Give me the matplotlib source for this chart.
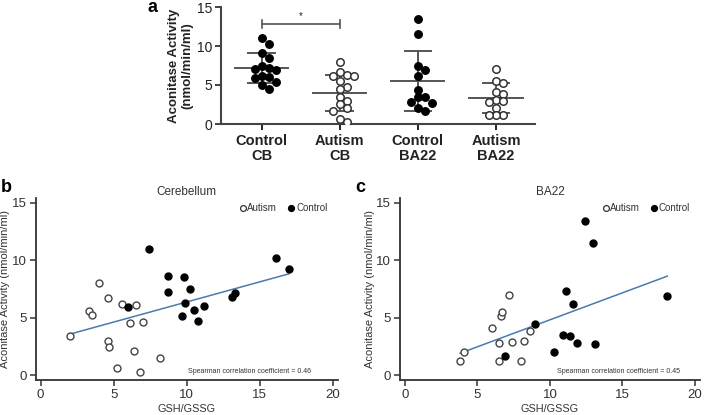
import matplotlib
matplotlib.use("Agg")
import matplotlib.pyplot as plt
import numpy as np

plt.rcParams["font.family"] = ["Liberation Sans", "DejaVu Sans"]

# ---- panel a: aconitase activity per group ----
groups = ["Control\nCB", "Autism\nCB", "Control\nBA22", "Autism\nBA22"]
ctrl_cb = [11.0, 10.3, 9.1, 8.4, 7.4, 7.2, 7.0, 6.9, 6.2, 5.9, 6.0, 5.4, 5.0, 4.5]
aut_cb = [8.0, 6.7, 6.3, 6.2, 6.1, 5.5, 4.8, 4.5, 3.4, 3.0, 2.5, 2.1, 1.7, 0.6, 0.3]
ctrl_ba22 = [13.4, 11.6, 7.4, 6.9, 6.2, 4.4, 3.5, 3.4, 2.8, 2.7, 2.0, 1.7]
aut_ba22 = [7.0, 5.5, 5.2, 4.1, 3.8, 3.1, 2.9, 2.8, 2.1, 1.2, 1.2, 1.1]
group_means = [7.2, 4.0, 5.5, 3.3]
group_sds = [1.9, 2.3, 3.8, 1.9]
filled = [True, False, True, False]

# ---- panel b: cerebellum ----
b_aut_x = [2.0, 3.3, 3.5, 4.0, 4.6, 4.6, 4.7, 5.2, 5.6, 6.1, 6.4, 6.5, 6.8, 7.0, 8.2]
b_aut_y = [3.4, 5.6, 5.2, 8.0, 6.7, 3.0, 2.4, 0.6, 6.2, 4.5, 2.1, 6.1, 0.3, 4.6, 1.5]
b_ctl_x = [6.0, 7.4, 8.7, 8.7, 9.7, 9.8, 9.9, 10.2, 10.5, 10.8, 11.2, 13.1, 13.3, 16.1, 17.0]
b_ctl_y = [5.9, 11.0, 8.6, 7.2, 5.1, 8.5, 6.3, 7.5, 5.7, 4.7, 6.0, 6.8, 7.1, 10.2, 9.2]
b_rho = 0.46

# ---- panel c: BA22 ----
c_aut_x = [3.8, 4.1, 6.0, 6.5, 6.5, 6.6, 6.7, 7.2, 7.4, 8.0, 8.2, 8.6]
c_aut_y = [1.2, 2.0, 4.1, 2.8, 1.2, 5.1, 5.5, 7.0, 2.9, 1.2, 3.0, 3.8]
c_ctl_x = [6.9, 9.0, 10.3, 10.9, 11.1, 11.4, 11.6, 11.9, 12.4, 13.0, 13.1, 18.1]
c_ctl_y = [1.7, 4.4, 2.0, 3.5, 7.3, 3.4, 6.2, 2.8, 13.4, 11.5, 2.7, 6.9]
c_rho = 0.45

DARK = "#222222"
GREY = "#555555"
LINE = "#4A7AAE"


def swarm(vals, step=0.09, ysep=0.85):
    vals = np.asarray(vals, float)
    offs = np.zeros(len(vals))
    placed = []
    for i in np.argsort(vals)[::-1]:
        for k in [0, 1, -1, 2, -2, 3, -3, 4, -4]:
            dx = k * step
            if all(((dx - px) / step) ** 2 + ((vals[i] - py) / ysep) ** 2 >= 0.95
                   for px, py in placed):
                break
        offs[i] = dx
        placed.append((dx, vals[i]))
    return offs


fig = plt.figure(figsize=(7.05, 4.15), dpi=100)

# ---------------- panel a ----------------
ax = fig.add_axes([221 / 705, 1 - 124 / 415, 314 / 705, 117 / 415])
for i, vals in enumerate([ctrl_cb, aut_cb, ctrl_ba22, aut_ba22]):
    xs = i + swarm(vals)
    if filled[i]:
        ax.plot(xs, vals, "o", ms=5.4, mfc="black", mec="black", zorder=3)
    else:
        ax.plot(xs, vals, "o", ms=5.4, mfc="white", mec="#333333", mew=1.1, zorder=3)
    m, s = group_means[i], group_sds[i]
    ax.plot([i - 0.34, i + 0.34], [m, m], color=GREY, lw=1.4, zorder=2)
    ax.plot([i - 0.17, i + 0.17], [m + s, m + s], color=GREY, lw=1.4, zorder=2)
    ax.plot([i - 0.17, i + 0.17], [m - s, m - s], color=GREY, lw=1.4, zorder=2)
    ax.plot([i, i], [m - s, m + s], color=GREY, lw=1.4, zorder=2)

# significance bracket
ax.plot([0, 1], [12.8, 12.8], color=GREY, lw=1.2)
ax.plot([0, 0], [12.3, 13.3], color=GREY, lw=1.2)
ax.plot([1, 1], [12.3, 13.3], color=GREY, lw=1.2)
ax.text(0.5, 13.2, "*", ha="center", va="bottom", fontsize=7, color=DARK)

ax.set_xlim(-0.52, 3.5)
ax.set_ylim(0, 15)
ax.set_yticks([0, 5, 10, 15])
ax.set_xticks(range(len(groups)))
ax.set_xticklabels(groups, fontsize=10.5, fontweight="bold", color=DARK, linespacing=1.1)
ax.tick_params(axis="y", labelsize=10, colors=DARK, length=4, width=1.2, pad=2)
ax.tick_params(axis="x", length=4, width=1.2, pad=3)
ax.spines[["top", "right"]].set_visible(False)
for sp in ("left", "bottom"):
    ax.spines[sp].set_linewidth(1.5)
    ax.spines[sp].set_color("#444444")
ax.set_ylabel("Aconitase Activity\n(nmol/min/ml)", fontsize=9.5, fontweight="bold",
              color=DARK, labelpad=3, linespacing=1.1)
fig.text(147 / 705, 1 - 7 / 415, "a", fontsize=13, fontweight="bold", va="center")


# ---------------- panels b, c ----------------
def scatter_panel(rect, ax_x, ax_y, ct_x, ct_y, rho, title, letter, letter_xy, note_x):
    ax = fig.add_axes(rect)
    ax.plot(ax_x, ax_y, "o", ms=5, mfc="white", mec="#444444", mew=1.0, zorder=3)
    ax.plot(ct_x, ct_y, "o", ms=5, mfc="black", mec="black", zorder=3)
    allx = np.array(ax_x + ct_x)
    ally = np.array(ax_y + ct_y)
    k, b0 = np.polyfit(allx, ally, 1)
    xl = np.array([allx.min(), allx.max()])
    ax.plot(xl, k * xl + b0, color=LINE, lw=1.1, zorder=2)
    ax.set_xlim(-0.34, 20.35)
    ax.set_ylim(-0.43, 15.4)
    ax.set_xticks([0, 5, 10, 15, 20])
    ax.set_yticks([0, 5, 10, 15])
    ax.tick_params(labelsize=9.5, colors="#333333", length=4, width=1.1, pad=2.5)
    ax.spines[["top", "right"]].set_visible(False)
    for sp in ("left", "bottom"):
        ax.spines[sp].set_linewidth(1.3)
        ax.spines[sp].set_color("#333333")
    ax.set_xlabel("GSH/GSSG", fontsize=7.8, color="#333333", labelpad=2)
    ax.set_ylabel("Aconitase Activity (nmol/min/ml)", fontsize=8, color="#333333", labelpad=1)
    ax.text(0.5, 1.035, title, transform=ax.transAxes, ha="center", va="center",
            fontsize=8.5, color="#333333")
    ax.text(note_x, 0.3, f"Spearman correlation coefficient = {rho}", ha="right",
            va="center", fontsize=5, color="#333333")
    # legend
    ax.plot([0.686], [0.945], "o", transform=ax.transAxes, ms=4.2, mfc="white",
            mec="#333333", mew=0.9, clip_on=False)
    ax.text(0.701, 0.945, "Autism", transform=ax.transAxes, va="center", fontsize=7,
            color="#333333")
    ax.plot([0.846], [0.945], "o", transform=ax.transAxes, ms=4.2, mfc="black", mec="black",
            clip_on=False)
    ax.text(0.862, 0.945, "Control", transform=ax.transAxes, va="center", fontsize=7,
            color="#333333")
    fig.text(letter_xy[0] / 705, 1 - letter_xy[1] / 415, letter, fontsize=13,
             fontweight="bold", va="center")
    return ax


scatter_panel([35.7 / 705, 35 / 415, 302 / 705, 182 / 415], b_aut_x, b_aut_y, b_ctl_x, b_ctl_y,
              b_rho, "Cerebellum", "b", (1, 187), 18.5)
scatter_panel([400 / 705, 35 / 415, 300 / 705, 182 / 415], c_aut_x, c_aut_y, c_ctl_x, c_ctl_y,
              c_rho, "BA22", "c", (355, 187), 19.0)

fig.savefig("out.png", dpi=100, facecolor="white")
